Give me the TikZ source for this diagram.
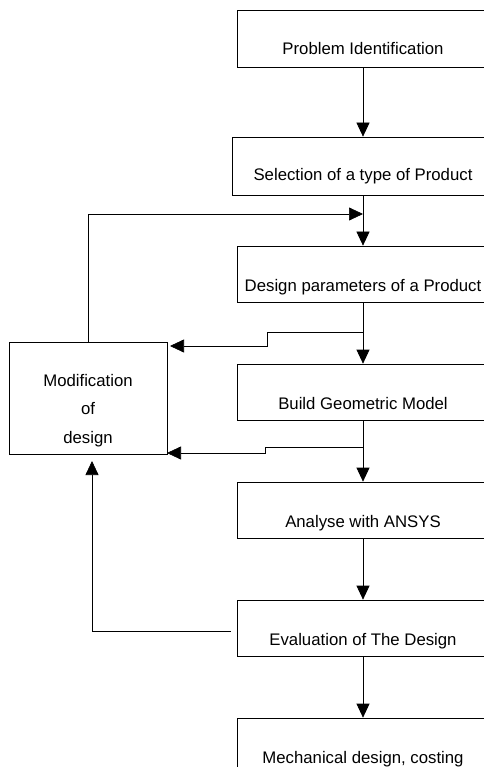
\documentclass[tikz,border=0pt]{standalone}
\usepackage{fontspec}
\setmainfont{Liberation Sans}
\usetikzlibrary{arrows.meta, calc}

\tikzset{
  procbox/.style={draw, line width=0.6pt, minimum width=7.56cm, inner sep=0pt,
    text height=1.35cm, text depth=0.33cm, font=\fontsize{14.3}{17}\selectfont},
  modbox/.style={draw, line width=0.6pt, minimum width=4.74cm, minimum height=3.36cm,
    inner sep=0pt, align=center, font=\fontsize{14.3}{24.3}\selectfont},
  arr/.style={line width=0.6pt, -{Triangle[length=0.42cm,width=0.39cm]}}
}

\begin{document}
\begin{tikzpicture}[x=0.03cm, y=-0.03cm]
   \useasboundingbox (0,0) rectangle (484,767);
   \clip (0,0) rectangle (484,767);
   % main chain
   \node[procbox, text depth=0.36cm] (p1) at (363,38.5) {Problem Identification};
   \node[procbox, minimum width=7.86cm, text height=1.32cm, text depth=0.42cm] (p2) at (363,166) {Selection of a type of Product};
   \node[procbox] (p3) at (363,274) {Design parameters of a Product};
   \node[procbox] (p4) at (363,392) {Build Geometric Model};
   \node[procbox] (p5) at (363,510) {Analyse with ANSYS};
   \node[procbox] (p6) at (363,628) {Evaluation of The Design};
   \node[procbox] (p7) at (363,746) {Mechanical design, costing};
   % side box
   \node[modbox] (mod) at (88,398) {\rule{0pt}{1.1cm}Modification\\of\\design};

   \coordinate (j1) at (363,214);
   \coordinate (b1) at (363,332);
   \coordinate (m1) at (170,346);
   \coordinate (b2) at (363,447);
   \coordinate (m2) at (167,453);
   \coordinate (m3) at (92,461);

   \draw[arr] (p1) -- (p2);
   \draw[arr] (p2) -- (p3);
   \draw[arr] (p3) -- (p4);
   \draw[arr] (p4) -- (p5);
   \draw[arr] (p5) -- (p6);
   \draw[arr] (p6) -- (p7);

   % feedback loops
   \draw[arr] (mod.north) |- (j1);
   \draw[arr] (b1) -| (267,346) -- (m1);
   \draw[arr] (b2) -| (265,453) -- (m2);
   \draw[arr] ([xshift=-0.18cm,yshift=-0.09cm]p6.west) -| (m3);
\end{tikzpicture}
\end{document}
